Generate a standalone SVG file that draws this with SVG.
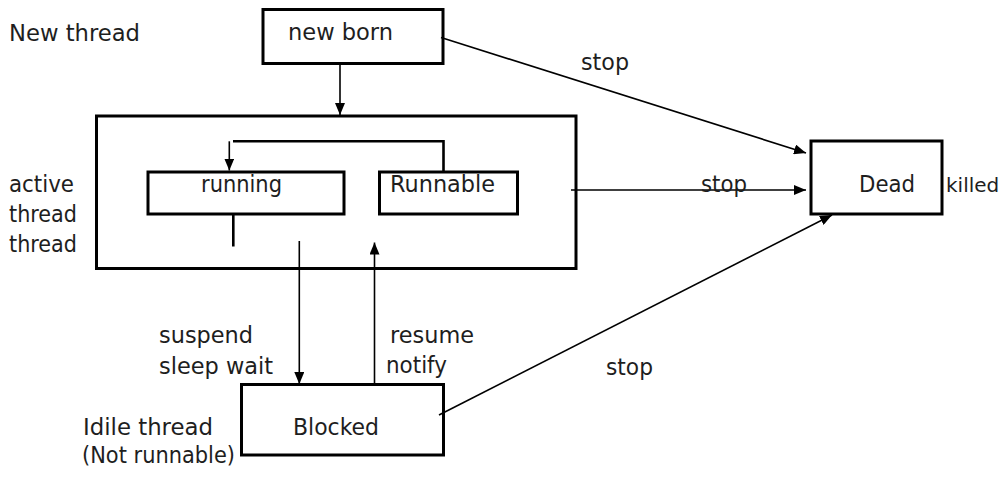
<svg xmlns="http://www.w3.org/2000/svg" width="1003" height="477" viewBox="0 0 1003 477">
  <style>
    text { font-family: "DejaVu Sans", Verdana, sans-serif; font-size: 22.4px; fill: #1e1e1e; }
    .box { fill: none; stroke: #000; stroke-width: 3; }
    .wire { fill: none; stroke: #000; stroke-width: 1.6; }
    .thick { fill: none; stroke: #000; stroke-width: 2.6; }
  </style>
  <defs>
    <marker id="head" viewBox="0 0 12 10" refX="12" refY="5" markerWidth="12" markerHeight="10" markerUnits="userSpaceOnUse" orient="auto">
      <path d="M0,0 L12,5 L0,10 z" fill="#000"/>
    </marker>
  </defs>

  <rect width="1003" height="477" fill="#fff"/>

  <!-- free-standing labels -->
  <g id="labels">
    <text x="9" y="41" textLength="131" lengthAdjust="spacingAndGlyphs">New thread</text>
    <text x="9" y="192" textLength="65" lengthAdjust="spacingAndGlyphs">active</text>
    <text x="9" y="222" textLength="68" lengthAdjust="spacingAndGlyphs">thread</text>
    <text x="9" y="252" textLength="68" lengthAdjust="spacingAndGlyphs">thread</text>
    <text x="83" y="435" textLength="130" lengthAdjust="spacingAndGlyphs">Idile thread</text>
    <text x="82" y="463" textLength="153" lengthAdjust="spacingAndGlyphs">(Not runnable)</text>
  </g>

  <!-- states -->
  <g id="newborn">
    <rect class="box" x="263" y="9.5" width="180" height="54"/>
    <text x="288" y="40" textLength="105" lengthAdjust="spacingAndGlyphs">new born</text>
  </g>

  <g id="active">
    <rect class="box" x="96.5" y="116" width="479.5" height="152.5"/>
  </g>

  <g id="running">
    <rect class="box" x="148" y="172" width="196" height="42"/>
    <text x="201" y="192" textLength="81" lengthAdjust="spacingAndGlyphs">running</text>
  </g>

  <g id="runnable">
    <rect class="box" x="379.5" y="172" width="138" height="42"/>
    <text x="390" y="192" textLength="105" lengthAdjust="spacingAndGlyphs">Runnable</text>
  </g>

  <g id="dead">
    <rect class="box" x="811" y="141" width="131" height="73"/>
    <text x="859" y="192" textLength="56" lengthAdjust="spacingAndGlyphs">Dead</text>
    <text x="946" y="192" style="font-size:20px">killed</text>
  </g>

  <g id="blocked">
    <rect class="box" x="241.5" y="384.5" width="202" height="70.5"/>
    <text x="293" y="435" textLength="86" lengthAdjust="spacingAndGlyphs">Blocked</text>
  </g>

  <!-- transitions -->
  <g id="connectors">
    <line class="wire" x1="340" y1="63" x2="340" y2="115" marker-end="url(#head)"/>
    <line class="wire" x1="441" y1="37.5" x2="806" y2="153" marker-end="url(#head)"/>
    <line class="wire" x1="571" y1="190" x2="806" y2="190" marker-end="url(#head)"/>
    <line class="wire" x1="439" y1="415" x2="832" y2="215" marker-end="url(#head)"/>

    <!-- Runnable back to running -->
    <polyline class="thick" points="443.5,172 443.5,141.3 233,141.3"/>
    <line class="wire" x1="229.3" y1="141.3" x2="229.3" y2="170.5" marker-end="url(#head)"/>
    <line class="thick" x1="233.3" y1="214" x2="233.3" y2="246.5"/>

    <line class="wire" x1="299.3" y1="241" x2="299.3" y2="384" marker-end="url(#head)"/>
    <line class="wire" x1="374.5" y1="384" x2="374.5" y2="242.5" marker-end="url(#head)"/>
  </g>

  <g id="transition-labels">
    <text x="581" y="70" textLength="48" lengthAdjust="spacingAndGlyphs">stop</text>
    <text x="701" y="192" textLength="46" lengthAdjust="spacingAndGlyphs">stop</text>
    <text x="606" y="375" textLength="47" lengthAdjust="spacingAndGlyphs">stop</text>
    <text x="159" y="343" textLength="94" lengthAdjust="spacingAndGlyphs">suspend</text>
    <text x="159" y="374" textLength="114" lengthAdjust="spacingAndGlyphs">sleep wait</text>
    <text x="390" y="343" textLength="84" lengthAdjust="spacingAndGlyphs">resume</text>
    <text x="386" y="373" textLength="61" lengthAdjust="spacingAndGlyphs">notify</text>
  </g>
</svg>
